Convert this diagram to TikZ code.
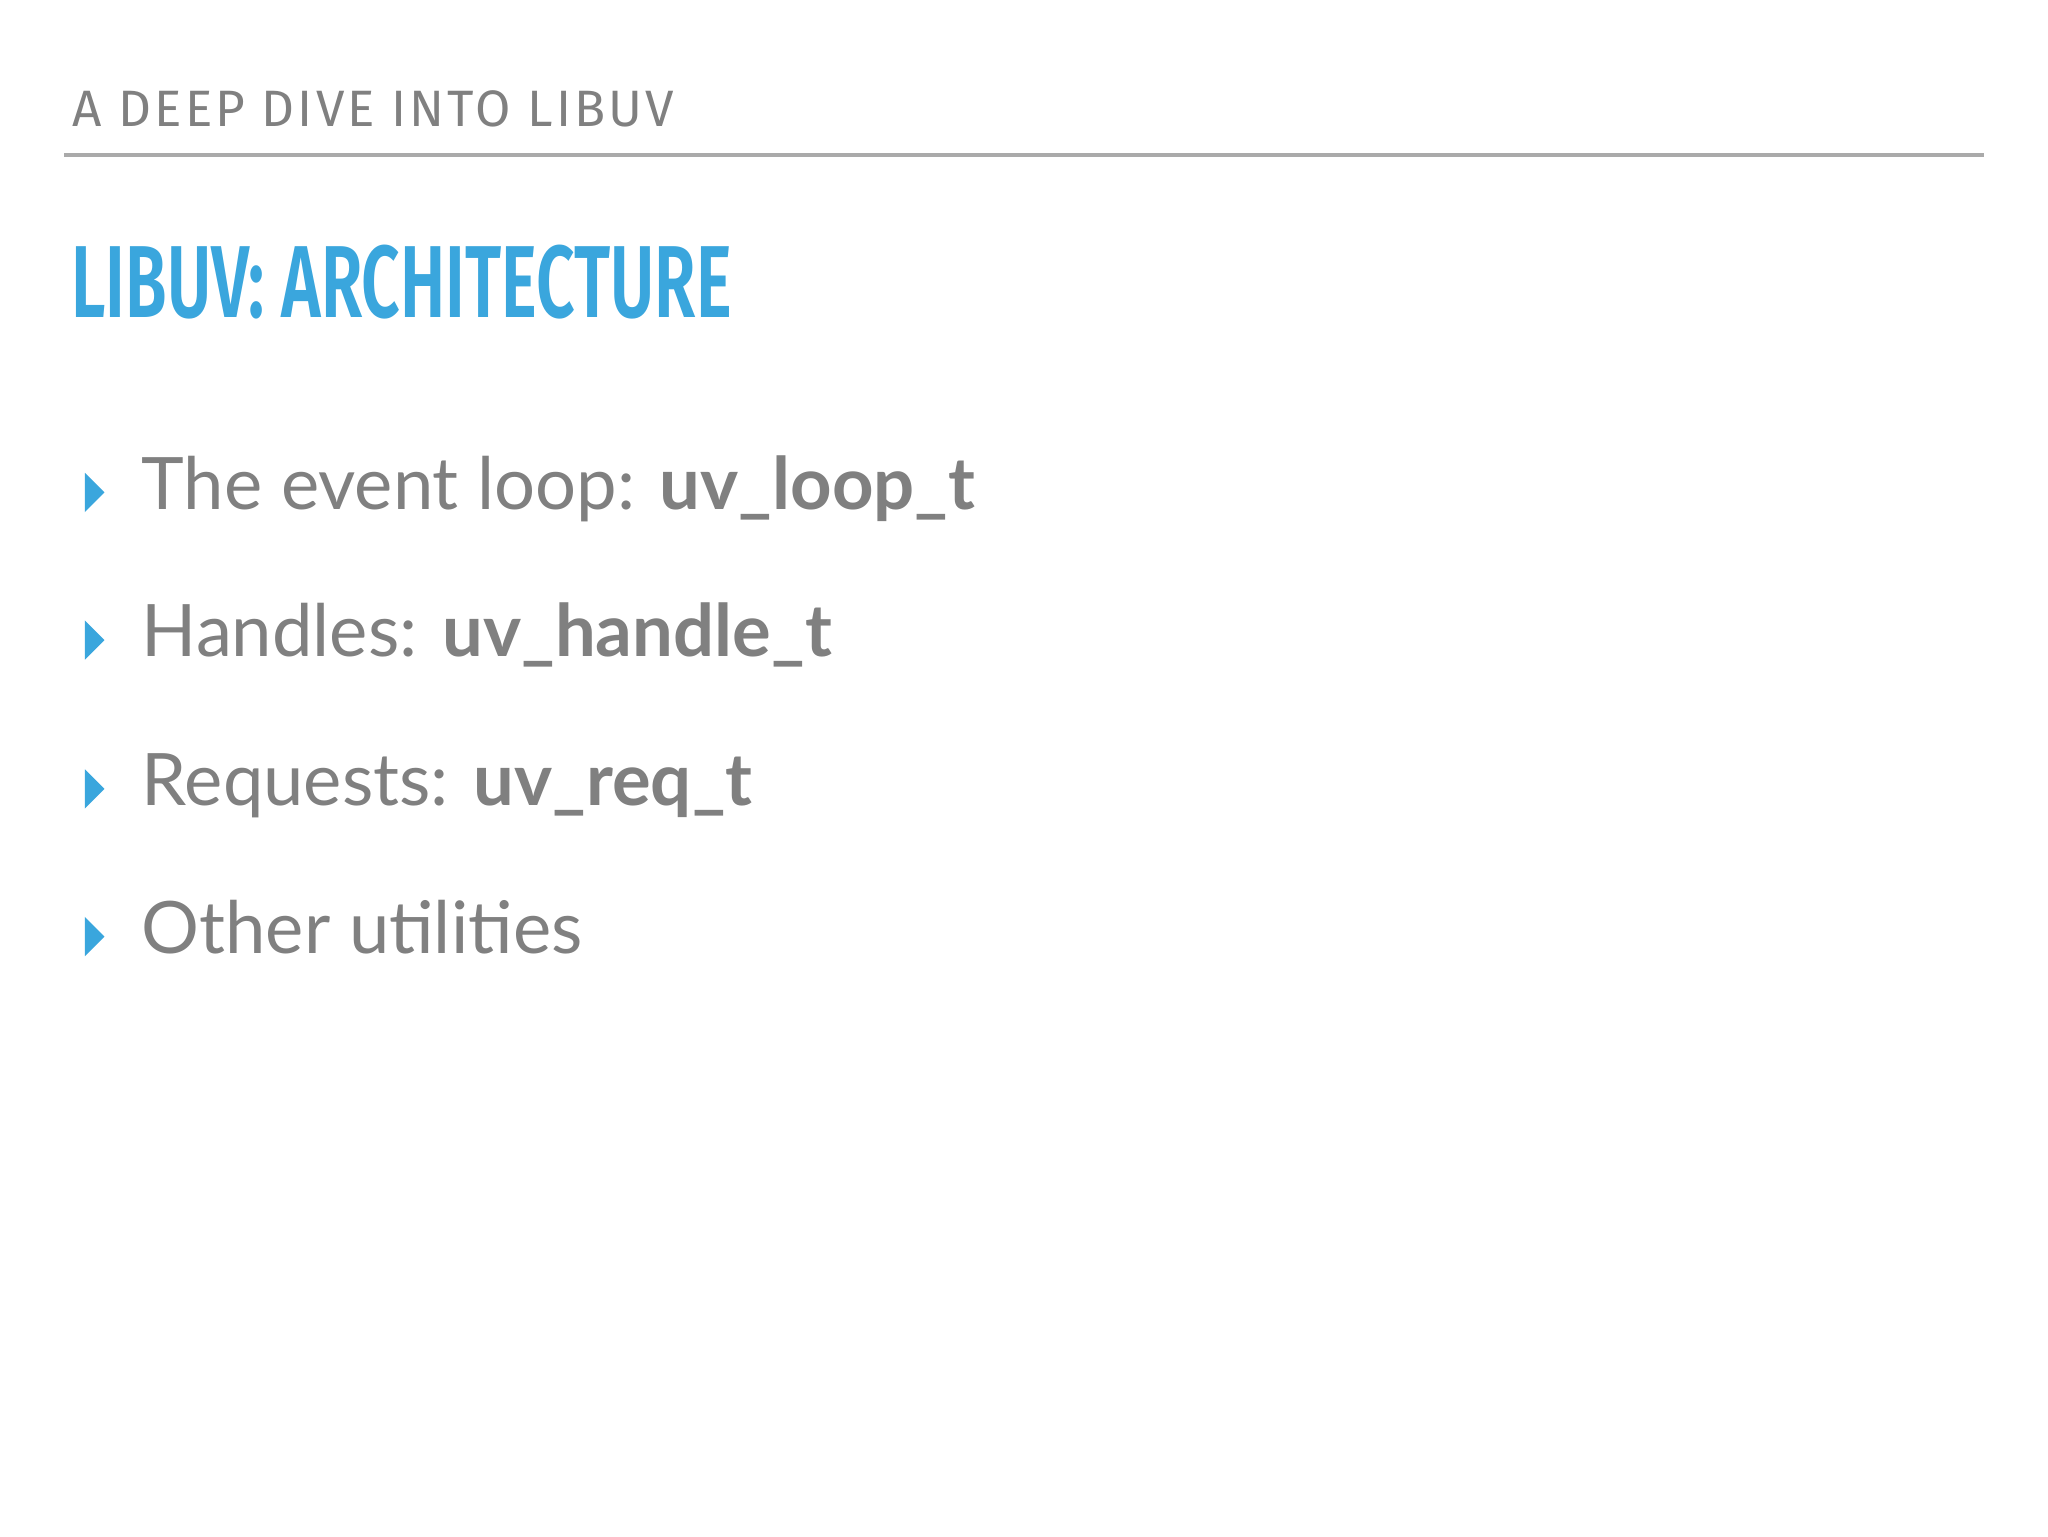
\documentclass[tikz,border=0pt]{standalone}
\usepackage{fontspec}
\setmainfont{Lato}
\newfontfamily\hdrfont[LetterSpace=6]{Fira Sans}
\newfontfamily\ttlfont[FakeStretch=0.66]{Fira Sans SemiBold}
\definecolor{txtgray}{RGB}{128,128,128}
\definecolor{rulegray}{RGB}{170,170,170}
\definecolor{blueT}{RGB}{58,166,221}
\begin{document}
\begin{tikzpicture}[x=0.37pt,y=-0.37pt,
  item/.style={anchor=base west,inner sep=0pt,text=txtgray,font=\fontsize{20.5}{24}\selectfont},
  bul/.style={fill=blueT,draw=none}]
\useasboundingbox (0,0) rectangle (1568,1176);
\fill[white] (0,0) rectangle (1568,1176);
\node[anchor=base west,inner sep=0pt,text=txtgray,font=\hdrfont\fontsize{14.5}{17}\selectfont] (hdr) at (55,97) {A DEEP DIVE INTO LIBUV};
\draw[rulegray,line width=1.1pt] (49,119) -- (1519,119);
\node[anchor=base west,inner sep=0pt,text=blueT,font=\ttlfont\fontsize{29}{34}\selectfont] (ttl) at (54,243) {LIBUV: ARCHITECTURE};
\foreach \y/\t [count=\i] in {390/{The event loop: \textbf{uv\_loop\_t}},503/{Handles: \textbf{uv\_handle\_t}},617/{Requests: \textbf{uv\_req\_t}},730/{Other utilities}}{
  \fill[bul] (65,\y-28) -- (80,\y-13) -- (65,\y+2) -- cycle;
  \node[item] (it\i) at (108,\y) {\t};
}
\end{tikzpicture}
\end{document}
